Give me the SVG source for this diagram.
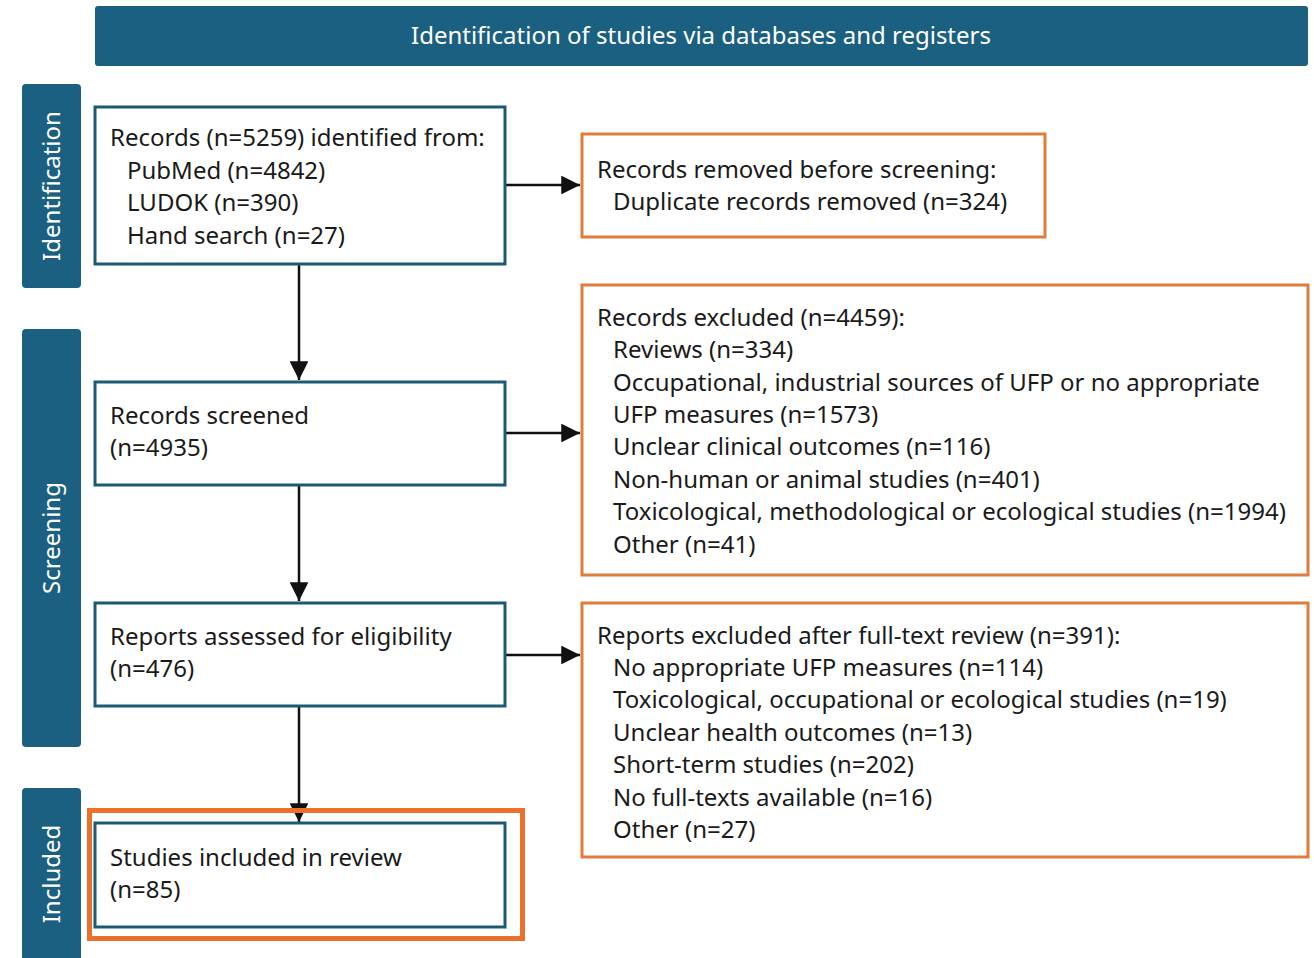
<svg xmlns="http://www.w3.org/2000/svg" width="1314" height="958" viewBox="0 0 1314 958">
<style>
.band{fill:#1b6080}
.bt{fill:#fff;font-family:"Noto Sans","Open Sans",sans-serif;font-size:24px}
.box{fill:#fff;stroke:#1d5a72;stroke-width:3}
.obox{fill:#fff;stroke:#e07d3c;stroke-width:3}
.t{fill:#1a1a1a;font-family:"Noto Sans","Open Sans",sans-serif;font-size:24px}
.c{stroke:#111;stroke-width:2.5;fill:none}
</style>
<defs>
<marker id="a" viewBox="0 0 10 10" refX="10" refY="5" markerWidth="7.5" markerHeight="7.5" orient="auto">
<path d="M0,0 L10,5 L0,10 z" fill="#111"/>
</marker>
</defs>
<rect width="1314" height="958" fill="#fff"/>
<g id="header">
<rect class="band" x="95" y="6" width="1213" height="60" rx="3"/>
<text class="bt" x="701" y="44" text-anchor="middle">Identification of studies via databases and registers</text>
</g>
<g id="lane-identification">
<rect class="band" x="22" y="84" width="59" height="204" rx="4"/>
<text class="bt" transform="translate(60,186) rotate(-90)" text-anchor="middle">Identification</text>
</g>
<g id="lane-screening">
<rect class="band" x="22" y="329" width="59" height="418" rx="4"/>
<text class="bt" transform="translate(60,538) rotate(-90)" text-anchor="middle">Screening</text>
</g>
<g id="lane-included">
<rect class="band" x="22" y="788" width="59" height="175" rx="4"/>
<text class="bt" transform="translate(60,874) rotate(-90)" text-anchor="middle">Included</text>
</g>
<g id="connectors">
<line class="c" x1="299" y1="265" x2="299" y2="380" marker-end="url(#a)"/>
<line class="c" x1="299" y1="486" x2="299" y2="601" marker-end="url(#a)"/>
<line class="c" x1="299" y1="707" x2="299" y2="822" marker-end="url(#a)"/>
<line class="c" x1="506" y1="185" x2="580" y2="185" marker-end="url(#a)"/>
<line class="c" x1="506" y1="433" x2="580" y2="433" marker-end="url(#a)"/>
<line class="c" x1="506" y1="655" x2="580" y2="655" marker-end="url(#a)"/>
</g>
<g id="records-identified">
<rect class="box" x="95" y="107" width="410" height="157"/>
<text class="t" x="110" y="146">Records (n=5259) identified from:</text>
<text class="t" x="127" y="179">PubMed (n=4842)</text>
<text class="t" x="127" y="211">LUDOK (n=390)</text>
<text class="t" x="127" y="244">Hand search (n=27)</text>
</g>
<g id="records-removed">
<rect class="obox" x="582" y="134" width="463" height="103"/>
<text class="t" x="597" y="178">Records removed before screening:</text>
<text class="t" x="613" y="210">Duplicate records removed (n=324)</text>
</g>
<g id="records-screened">
<rect class="box" x="95" y="382" width="410" height="103"/>
<text class="t" x="110" y="424">Records screened</text>
<text class="t" x="110" y="456">(n=4935)</text>
</g>
<g id="records-excluded">
<rect class="obox" x="582" y="285" width="726" height="290"/>
<text class="t" x="597" y="326">Records excluded (n=4459):</text>
<text class="t" x="613" y="358">Reviews (n=334)</text>
<text class="t" x="613" y="391">Occupational, industrial sources of UFP or no appropriate</text>
<text class="t" x="613" y="423">UFP measures (n=1573)</text>
<text class="t" x="613" y="455">Unclear clinical outcomes (n=116)</text>
<text class="t" x="613" y="488">Non-human or animal studies (n=401)</text>
<text class="t" x="613" y="520">Toxicological, methodological or ecological studies (n=1994)</text>
<text class="t" x="613" y="553">Other (n=41)</text>
</g>
<g id="reports-assessed">
<rect class="box" x="95" y="603" width="410" height="103"/>
<text class="t" x="110" y="645">Reports assessed for eligibility</text>
<text class="t" x="110" y="677">(n=476)</text>
</g>
<g id="reports-excluded">
<rect class="obox" x="582" y="603" width="726" height="254"/>
<text class="t" x="597" y="644">Reports excluded after full-text review (n=391):</text>
<text class="t" x="613" y="676">No appropriate UFP measures (n=114)</text>
<text class="t" x="613" y="708">Toxicological, occupational or ecological studies (n=19)</text>
<text class="t" x="613" y="741">Unclear health outcomes (n=13)</text>
<text class="t" x="613" y="773">Short-term studies (n=202)</text>
<text class="t" x="613" y="806">No full-texts available (n=16)</text>
<text class="t" x="613" y="838">Other (n=27)</text>
</g>
<g id="studies-included">
<rect class="box" x="95" y="823" width="410" height="104"/>
<text class="t" x="110" y="866">Studies included in review</text>
<text class="t" x="110" y="898">(n=85)</text>
<rect x="89.5" y="810.5" width="433" height="128" fill="none" stroke="#ec6f2b" stroke-width="5"/>
</g>
</svg>
